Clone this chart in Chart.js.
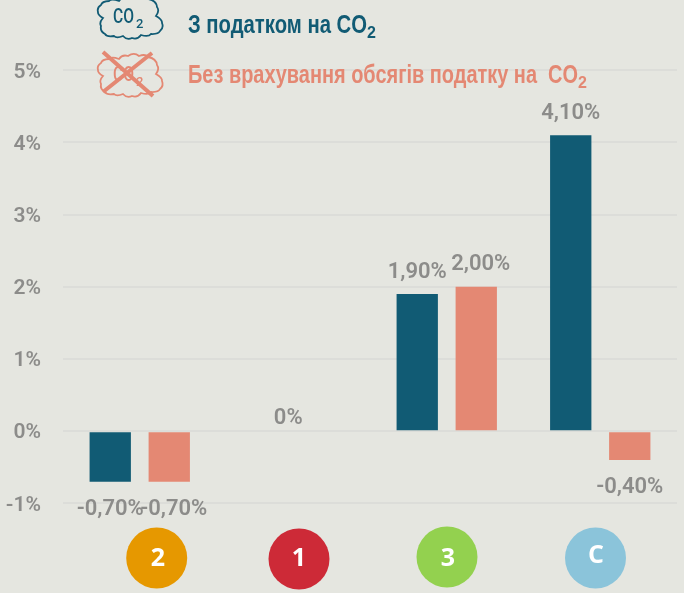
<!DOCTYPE html>
<html><head><meta charset="utf-8">
<style>html,body{margin:0;padding:0;background:#e5e6e0}#w{position:absolute;left:0;top:0;width:684px;height:593px}</style>
<script src="https://cdn.jsdelivr.net/npm/chart.js@4"></script>
</head><body><div id="w"><canvas id="c"></canvas></div>
<script>
const categories=['2','1','3','C'];
const withTax=[-0.7,0,1.9,4.1];
const withoutTax=[-0.7,null,2.0,-0.4];
const seriesNames=['З податком на CO','Без врахування обсягів податку на  CO'];
const yTicks=[-1,0,1,2,3,4,5];
const badgeColors=['#e69800','#cd2a37','#93d14f','#8bc4da'];
const BLUE='#115b74',SALMON='#e48873',GREY='#8c8c8a',BG='#e5e6e0';
const SANS='"Liberation Sans",sans-serif',ROBO='Roboto,sans-serif';
const badgeCentres=[[156.7,558],[299,559],[447,557],[595.5,558]];
const badgeText=[[158,559],[299,559],[448,559],[596,556]];
const labelShift=[[0,4.5],[-5,0],[0,4.5],[0,0]]; // per category, [series1, series2]
const cloudNodes=[[-33,-6],[-30,-13],[-22,-17],[-12,-17],[-3,-20],[8,-20],[17,-19],[26,-11],[25,-2],[31,5],[29,13],[20,16],[10,17],[1,20],[-8,18],[-17,18],[-26,16],[-30,8],[-28,0]];
function cloud(ctx,cx,cy,color){
  ctx.save();ctx.translate(cx,cy);ctx.strokeStyle=color;ctx.lineWidth=1.8;ctx.beginPath();
  const n=cloudNodes.length;
  ctx.moveTo(cloudNodes[0][0],cloudNodes[0][1]);
  for(let i=1;i<=n;i++){const a=cloudNodes[i-1],b=cloudNodes[i%n];
    const mx=(a[0]+b[0])/2,my=(a[1]+b[1])/2,l=Math.hypot(mx,my)||1,d=Math.hypot(b[0]-a[0],b[1]-a[1])*0.38;
    ctx.quadraticCurveTo(mx+mx/l*d,my+my/l*d,b[0],b[1]);}
  ctx.closePath();ctx.stroke();
  ctx.fillStyle=color;ctx.textBaseline='alphabetic';ctx.textAlign='left';
  ctx.font='500 20px '+ROBO;ctx.fillText('CO',-18,5,21);
  ctx.font='500 13px '+ROBO;ctx.fillText('2',5,10,8);
  ctx.restore();
}
const overlay={id:'overlay',
 afterDatasetsDraw(chart){
  const ctx=chart.ctx,x=chart.scales.x,y=chart.scales.y;
  ctx.save();
  ctx.font='600 22px '+ROBO;ctx.fillStyle=GREY;ctx.textAlign='center';ctx.textBaseline='middle';
  chart.data.datasets.forEach((ds,si)=>{
    const meta=chart.getDatasetMeta(si);
    ds.data.forEach((v,i)=>{
      if(v===null)return;
      const bar=meta.data[i];
      const txt=v===0?'0%':v.toFixed(2).replace('.',',')+'%';
      const yy=y.getPixelForValue(v)+(v>0?-22:v<0?27.5:-12.5);
      const xx=v===0?x.getPixelForValue(i)-5:bar.x+labelShift[i][si];
      ctx.fillText(txt,xx,yy);
    });
  });
  categories.forEach((c,i)=>{
    ctx.fillStyle=badgeColors[i];ctx.beginPath();ctx.arc(badgeCentres[i][0],badgeCentres[i][1],30.5,0,Math.PI*2);ctx.fill();
    ctx.fillStyle='#fff';ctx.font='bold 25px "Open Sans",sans-serif';ctx.textAlign='center';ctx.textBaseline='middle';
    ctx.fillText(c,badgeText[i][0],badgeText[i][1]);
  });
  cloud(ctx,131,18,BLUE);
  cloud(ctx,131,76,SALMON);
  ctx.strokeStyle=SALMON;ctx.lineWidth=4;
  ctx.beginPath();ctx.moveTo(103,52);ctx.lineTo(153,96);ctx.moveTo(152,53);ctx.lineTo(103,92);ctx.stroke();
  ctx.textAlign='left';ctx.textBaseline='alphabetic';
  const cols=[BLUE,SALMON],ys=[33,83],sz=[25,25],w=[179,390];
  seriesNames.forEach((s,i)=>{
    ctx.fillStyle=cols[i];ctx.font='bold '+sz[i]+'px '+SANS;
    ctx.fillText(s,188,ys[i],w[i]);
    ctx.font='bold 16px '+SANS;ctx.fillText('2',188+w[i],ys[i]+5,10);
  });
  ctx.restore();
 }};
new Chart(document.getElementById('c'),{type:'bar',
 data:{labels:categories,datasets:[
  {label:seriesNames[0]+'₂',data:withTax,backgroundColor:BLUE,borderWidth:0},
  {label:seriesNames[1]+'₂',data:withoutTax,backgroundColor:SALMON,borderWidth:0}]},
 options:{responsive:true,maintainAspectRatio:false,animation:false,
  layout:{padding:{top:70.3,right:7,left:0,bottom:0}},
  datasets:{bar:{categoryPercentage:0.769,barPercentage:0.70}},
  plugins:{legend:{display:false},title:{display:false},tooltip:{enabled:false}},
  scales:{
   x:{grid:{display:false,drawTicks:false},border:{display:false},ticks:{display:false},
      afterFit(s){s.height=89.7;}},
   y:{min:-1,max:5,afterBuildTicks(s){s.ticks=yTicks.map(v=>({value:v}));},
      grid:{color:'#dcddd9',lineWidth:2,drawTicks:false},border:{display:false},
      ticks:{padding:22,labelOffset:2,color:GREY,font:{family:ROBO,size:21,weight:'600'},callback:v=>v+'%'},
      afterFit(s){s.width=63;},
      }}},
 plugins:[overlay]});
</script></body></html>
